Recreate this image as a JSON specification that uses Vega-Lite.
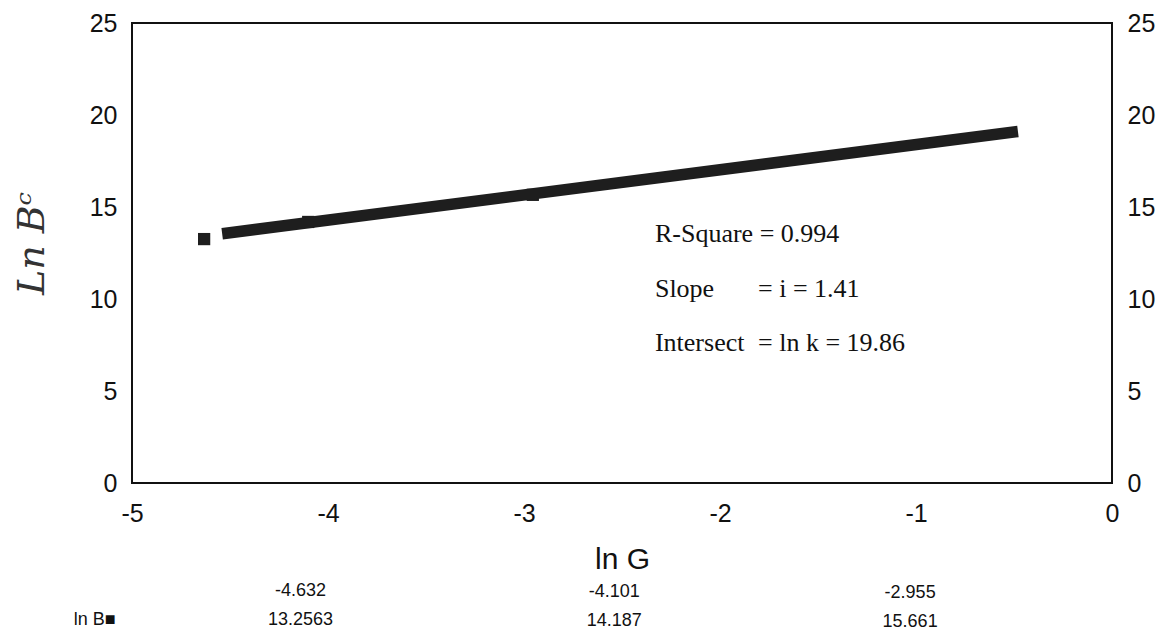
{
  "$schema": "https://vega.github.io/schema/vega-lite/v6.json",
  "width": 980,
  "height": 460,
  "autosize": {"type": "none"},
  "padding": {"left": 132, "top": 23, "right": 52, "bottom": 161},
  "background": "white",
  "datasets": {
    "points": [
      {"lnG": -4.632, "lnB": 13.2563},
      {"lnG": -4.101, "lnB": 14.187},
      {"lnG": -2.955, "lnB": 15.661}
    ],
    "fit": [
      {"lnG": -4.54, "lnB": 13.55},
      {"lnG": -0.48, "lnB": 19.1}
    ],
    "notes": [
      {"x": -2.332, "y": 13.53, "text": "R-Square = 0.994"},
      {"x": -2.332, "y": 10.54, "text": "Slope"},
      {"x": -1.806, "y": 10.54, "text": "= i = 1.41"},
      {"x": -2.332, "y": 7.61, "text": "Intersect"},
      {"x": -1.806, "y": 7.61, "text": "= ln k = 19.86"}
    ],
    "table": [
      {"x": -5.19, "y": -7.45, "text": "ln B■"},
      {"x": -4.14, "y": -5.87, "text": "-4.632"},
      {"x": -4.14, "y": -7.45, "text": "13.2563"},
      {"x": -2.54, "y": -5.90, "text": "-4.101"},
      {"x": -2.54, "y": -7.50, "text": "14.187"},
      {"x": -1.03, "y": -5.98, "text": "-2.955"},
      {"x": -1.03, "y": -7.58, "text": "15.661"}
    ]
  },
  "config": {
    "view": {"stroke": "#111", "strokeWidth": 2},
    "axis": {
      "grid": false,
      "ticks": false,
      "domain": false,
      "labelFont": "Liberation Sans",
      "labelFontSize": 25,
      "labelColor": "#111",
      "titleFont": "Liberation Sans",
      "titleFontWeight": "normal",
      "titleColor": "#111"
    }
  },
  "resolve": {"axis": {"y": "independent"}},
  "layer": [
    {
      "data": {"name": "points"},
      "mark": {"type": "point", "shape": "square", "filled": true, "size": 150, "color": "#1e1e1e", "opacity": 1},
      "encoding": {
        "x": {
          "field": "lnG", "type": "quantitative",
          "scale": {"domain": [-5, 0], "nice": false, "zero": false},
          "axis": {
            "orient": "bottom",
            "values": [-5, -4, -3, -2, -1, 0],
            "labelExpr": "toString(datum.value)",
            "labelPadding": 18,
            "labelFlush": false,
            "labelOverlap": false,
            "title": "ln G",
            "titleFontSize": 30,
            "titlePadding": 18
          }
        },
        "y": {
          "field": "lnB", "type": "quantitative",
          "scale": {"domain": [0, 25], "nice": false, "zero": false},
          "axis": {
            "orient": "left",
            "values": [0, 5, 10, 15, 20, 25],
            "labelPadding": 15,
            "labelFlush": false,
            "labelOverlap": false,
            "title": "Ln Bᶜ",
            "titleFont": "DejaVu Serif",
            "titleFontStyle": "italic",
            "titleFontSize": 38,
            "titleColor": "#333",
            "titleAngle": -90,
            "titleX": -100,
            "titleY": 220,
            "titleAlign": "center",
            "titleBaseline": "middle"
          }
        }
      }
    },
    {
      "data": {"name": "fit"},
      "mark": {"type": "line", "color": "#1e1e1e", "strokeWidth": 11.5, "strokeCap": "butt"},
      "encoding": {
        "x": {"field": "lnG", "type": "quantitative"},
        "y": {
          "field": "lnB", "type": "quantitative",
          "axis": {
            "orient": "right",
            "values": [0, 5, 10, 15, 20, 25],
            "labelPadding": 15,
            "labelFlush": false,
            "labelOverlap": false,
            "title": null
          }
        }
      }
    },
    {
      "data": {"name": "notes"},
      "mark": {"type": "text", "align": "left", "baseline": "middle", "font": "Liberation Serif", "fontSize": 26, "color": "#111"},
      "encoding": {
        "x": {"field": "x", "type": "quantitative"},
        "y": {"field": "y", "type": "quantitative", "axis": null},
        "text": {"field": "text"}
      }
    },
    {
      "data": {"name": "table"},
      "mark": {"type": "text", "align": "center", "baseline": "middle", "font": "Liberation Sans Narrow, Liberation Sans", "fontSize": 18, "color": "#111"},
      "encoding": {
        "x": {"field": "x", "type": "quantitative"},
        "y": {"field": "y", "type": "quantitative", "axis": null},
        "text": {"field": "text"}
      }
    }
  ]
}
